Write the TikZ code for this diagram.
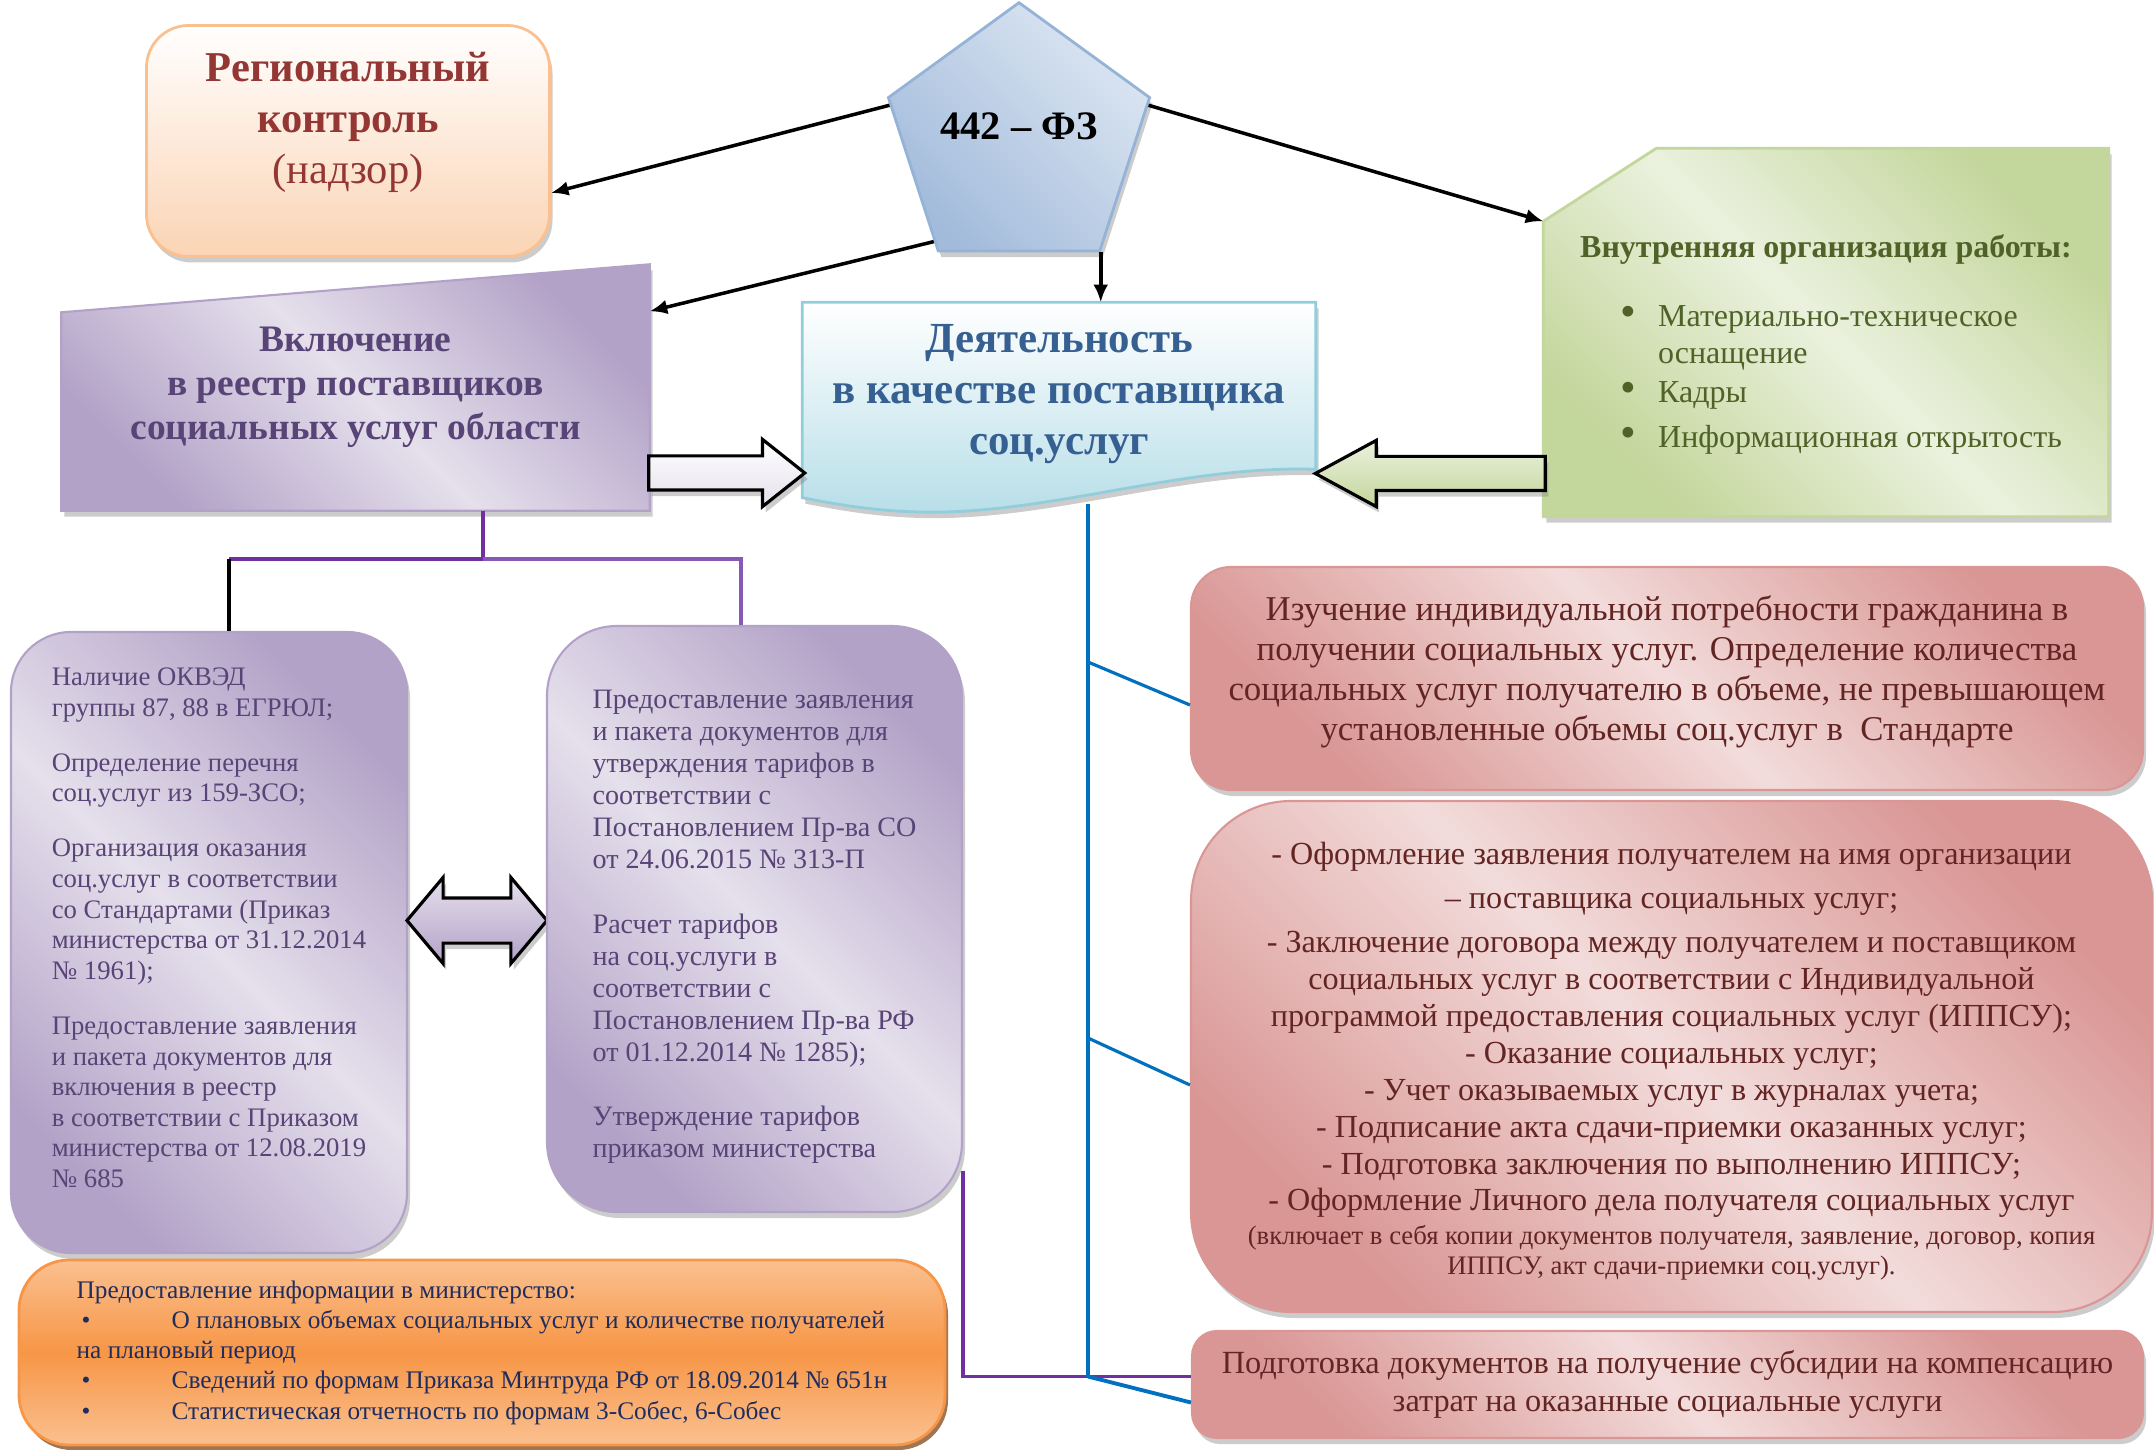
\documentclass[tikz,border=0pt]{standalone}
\usepackage{fontspec}
\setmainfont{Liberation Serif}
\usetikzlibrary{shapes.geometric,shapes.arrows,shadows,backgrounds,calc,arrows.meta}

\definecolor{regtxt}{HTML}{943634}
\definecolor{regfill}{HTML}{FBD4B4}
\definecolor{regline}{HTML}{FAC090}
\definecolor{fzdark}{HTML}{A2BBDB}
\definecolor{fzlight}{HTML}{DCE6F2}
\definecolor{fzline}{HTML}{95B3D7}
\definecolor{lilac}{HTML}{B3A2C7}
\definecolor{lilaclight}{HTML}{E5E0EC}
\definecolor{liltxt}{HTML}{584476}
\definecolor{doctxt}{HTML}{366092}
\definecolor{docfill}{HTML}{B7DEE8}
\definecolor{docline}{HTML}{92CDDC}
\definecolor{grn}{HTML}{C3D69B}
\definecolor{grnlight}{HTML}{EBF1DE}
\definecolor{grntxt}{HTML}{4F6228}
\definecolor{rose}{HTML}{D99694}
\definecolor{roselight}{HTML}{F2DCDB}
\definecolor{rosetxt}{HTML}{632523}
\definecolor{orng}{HTML}{F79646}
\definecolor{ornglight}{HTML}{FAC090}
\definecolor{orngtxt}{HTML}{1F2D5E}
\definecolor{vio}{HTML}{7030A0}
\definecolor{violight}{HTML}{8659B5}
\definecolor{linkblue}{HTML}{0070C0}

\newcommand{\itm}{\hspace*{.4cm}\makebox[.38cm][l]{\scalebox{1.4}{\textbullet}}}
\newcommand{\pkt}{\makebox[.95cm][l]{\hspace{.05cm}\textbullet}}

\begin{document}
\begin{tikzpicture}[>={Latex[length=5pt,width=4.2pt]},
	shadowed/.style={drop shadow={shadow xshift=.03cm,shadow yshift=-.06cm,opacity=.4}},
	diag/.style 2 args={top color=#1,bottom color=#1,middle color=#2,shading angle=-45},
	blockarrow/.style={draw,line width=.9pt,inner xsep=0pt,shadowed},
	lilacbox/.style={draw=lilac,line width=.6pt,diag={lilac}{lilaclight},shadowed,
		align=left,text=liltxt},
	rosebox/.style={draw=rose,line width=.6pt,diag={rose}{roselight},shadowed,
		align=center,text=rosetxt},
	link/.style={line width=1pt}]
	\useasboundingbox (0,0) rectangle (21.54,-14.50);
	\path
	(3.48,-1.41)     node[draw=regline,line width=.8pt,rounded corners=.42cm,top color=white,
	                  bottom color=regfill,shadowed,minimum width=4.03cm,minimum height=2.31cm,
	                  align=center,text=regtxt,font=\fontsize{12.1}{14.5}\selectfont] (reg)
	                 {\bfseries Региональный\\ \bfseries контроль\\ (надзор)\rule[-13pt]{0pt}{13pt}}
	(10.19,-1.40)    node[regular polygon,regular polygon sides=5,minimum size=2.62cm,inner sep=0pt,
	                  draw=fzline,line width=.8pt,top color=fzlight,bottom color=fzdark,
	                  shading angle=-45,shadowed,text depth=8pt,
	                  font=\fontsize{11.5}{13}\selectfont\bfseries] (fz) {442 – ФЗ}
	(3.555,-3.875)   node[minimum width=5.87cm,minimum height=2.45cm,align=center,text=liltxt,
	                  font=\fontsize{10.65}{12.5}\selectfont\bfseries] (vk)
	                 {Включение\\ в реестр поставщиков\\ социальных услуг области}
	(10.59,-4.00)    node[minimum width=5.12cm,minimum height=1.94cm,align=center,text=doctxt,
	                  font=\fontsize{12.2}{14.5}\selectfont\bfseries] (doc)
	                 {Деятельность\\ в качестве поставщика\\ соц.услуг\rule[-6pt]{0pt}{6pt}}
	(18.26,-3.325)   node[minimum width=5.64cm,minimum height=3.67cm,align=left,text=grntxt,
	                  font=\fontsize{9.1}{10.5}\selectfont] (inner)
	                 {\fontsize{9.1}{10.5}\selectfont\bfseries Внутренняя организация работы:\rule{0pt}{13.3pt}\\[9.4pt]
	                  \itm Материально-техническое\\
	                  \hspace*{.78cm}оснащение\\[.6pt]
	                  \itm Кадры\\[2.3pt]
	                  \itm Информационная открытость}
	(7.16,-4.73)     node[single arrow,blockarrow,minimum height=1.56cm,inner ysep=.155cm,
	                  single arrow head extend=.165cm,single arrow tip angle=77,
	                  top color=white,bottom color=lilaclight] (ar1) {}
	(14.46,-4.735)   node[single arrow,blockarrow,shape border rotate=180,minimum height=2.30cm,
	                  inner ysep=.155cm,single arrow head extend=.16cm,single arrow tip angle=57,
	                  top color=grnlight,bottom color=grn] (ar2) {}
	(2.09,-9.425)    node[lilacbox,rounded corners=.6cm,minimum width=3.96cm,minimum height=6.21cm,
	                  font=\fontsize{7.6}{8.7}\selectfont] (b1)
	                 {Наличие ОКВЭД\\ группы 87, 88 в ЕГРЮЛ;\\[7pt]
	                  Определение перечня\\ соц.услуг из 159-ЗСО;\\[7pt]
	                  Организация оказания\\ соц.услуг в соответствии\\ со Стандартами (Приказ\\
	                  министерства от 31.12.2014\\ № 1961);\\[7pt]
	                  Предоставление заявления\\ и пакета документов для\\ включения в реестр\\
	                  в соответствии с Приказом\\ министерства от 12.08.2019\\ № 685\rule[-8.5pt]{0pt}{8.5pt}}
	(4.77,-9.205)    node[double arrow,blockarrow,minimum height=1.40cm,inner ysep=.21cm,
	                  double arrow head extend=.205cm,double arrow tip angle=100,
	                  top color=lilaclight,bottom color=lilac] (ar3) {}
	(7.545,-9.19)    node[lilacbox,rounded corners=.7cm,minimum width=4.15cm,minimum height=5.86cm,
	                  font=\fontsize{8}{9.1}\selectfont] (b2)
	                 {\rule{0pt}{9.8pt}Предоставление заявления\\ и пакета документов для\\
	                  утверждения тарифов в\\ соответствии с\\ Постановлением Пр-ва СО\\
	                  от 24.06.2015 № 313-П\\[9.3pt]
	                  Расчет тарифов\\ на соц.услуги в\\ соответствии с\\ Постановлением Пр-ва РФ\\
	                  от 01.12.2014 № 1285);\\[9.3pt]
	                  Утверждение тарифов\\ приказом министерства}
	(16.67,-6.785)   node[rosebox,rounded corners=.4cm,minimum width=9.52cm,minimum height=2.23cm,
	                  font=\fontsize{9.9}{11.4}\selectfont] (r1)
	                 {Изучение индивидуальной потребности гражданина в\\
	                  получении социальных услуг. Определение количества\\
	                  социальных услуг получателю в объеме, не превышающем\\
	                  установленные объемы соц.услуг в\ \ Стандарте\rule[-6pt]{0pt}{6pt}}
	(16.715,-10.565) node[rosebox,rounded corners=1cm,minimum width=9.61cm,minimum height=5.11cm,
	                  font=\fontsize{9.15}{10.5}\selectfont] (r2)
	                 {\rule{0pt}{9pt}- Оформление заявления получателем на имя организации\\[2pt]
	                  – поставщика социальных услуг;\\[2pt]
	                  - Заключение договора между получателем и поставщиком\\
	                  социальных услуг в соответствии с Индивидуальной\\
	                  программой предоставления социальных услуг (ИППСУ);\\
	                  - Оказание социальных услуг;\\
	                  - Учет оказываемых услуг в журналах учета;\\
	                  - Подписание акта сдачи-приемки оказанных услуг;\\
	                  - Подготовка заключения по выполнению ИППСУ;\\
	                  - Оформление Личного дела получателя социальных услуг\\[-.8pt]
	                  \fontsize{7.6}{8.3}\selectfont(включает в себя копии документов получателя, заявление, договор, копия\\[-2.2pt]
	                  \fontsize{7.6}{8.3}\selectfont ИППСУ, акт сдачи-приемки соц.услуг).}
	(16.675,-13.845) node[rosebox,rounded corners=.25cm,minimum width=9.51cm,minimum height=1.07cm,
	                  font=\fontsize{9.2}{10.8}\selectfont] (r3)
	                 {Подготовка документов на получение субсидии на компенсацию\\
	                  затрат на оказанные социальные услуги}
	(4.82,-13.525)   node[draw=orng,line width=.8pt,rounded corners=.5cm,top color=ornglight,
	                  bottom color=ornglight,middle color=orng,
	                  drop shadow={shadow xshift=.03cm,shadow yshift=-.05cm,fill=orng!55!black,opacity=.8},
	                  minimum width=9.26cm,minimum height=1.85cm,align=left,
	                  text=orngtxt,font=\fontsize{7.2}{8.6}\selectfont] (inf)
	                 {Предоставление информации в министерство:\\
	                  \pkt О плановых объемах социальных услуг и количестве получателей\\
	                  на плановый период\\
	                  \pkt Сведений по формам Приказа Минтруда РФ от 18.09.2014 № 651н\\
	                  \pkt Статистическая отчетность по формам 3-Собес, 6-Собес};

	\coordinate (cut) at ([yshift=-.73cm]inner.north west);
	\coordinate (bt) at ([xshift=.29cm,yshift=-.06cm]doc.south);
	\coordinate (pj) at ([yshift=.08cm]r3.west);
	\coordinate (bb) at (bt |- pj);
	\coordinate (k1) at (10.88,-6.62);
	\coordinate (k2) at (10.88,-10.38);
	\coordinate (j) at (4.83,-5.59);
	\coordinate (jl) at (2.29,-5.59);
	\coordinate (jr) at (7.41,-5.59);

	\begin{scope}[on background layer]
	\path[shadowed,draw=lilac,line width=.6pt,diag={lilac}{lilaclight}]
	(vk.south west) -- ([yshift=-.48cm]vk.north west) -- (vk.north east) -- (vk.south east) -- cycle;
	\path[shadowed,draw=docline,line width=.8pt,top color=white,bottom color=docfill]
	(doc.north west) -- (doc.north east) -- ([yshift=-1.67cm]doc.north east)
	.. controls (11.80,-4.65) and (10.50,-5.15) .. (9.20,-5.12)
	.. controls (8.70,-5.11) and (8.30,-5.03) .. (doc.south west) -- cycle;
	\path[shadowed,draw=grn,line width=.8pt,diag={grn}{grnlight}]
	([xshift=1.13cm]inner.north west) -- (inner.north east) -- (inner.south east)
	-- (inner.south west) -- (cut) -- cycle;
	\end{scope}

	\draw[link,->] (fz.165) -- ([yshift=-.52cm]reg.east);
	\draw[link,->] (fz.230) -- ([yshift=-.47cm]vk.north east);
	\draw[link,->] (fz.15) -- (cut);
	\draw[link,->] (fz.corner 4) -- (fz.corner 4 |- doc.north);

	\draw[vio,line width=1.1pt] (j |- vk.south) -- (j);
	\draw[vio,line width=1.3pt] (jl) -- (j);
	\draw[violight,line width=1pt] (j) -- (jr) -- (jr |- b2.north);
	\draw[line width=.9pt] (jl) -- (jl |- b1.north);
	\draw[vio,line width=1pt] ([yshift=.42cm]b2.south east) |- (pj);

	\draw[linkblue,line width=.9pt] (bt) -- (bb);
	\draw[linkblue,line width=.9pt] (k1) -- ([yshift=-.265cm]r1.west);
	\draw[linkblue,line width=.9pt] (k2) -- ([yshift=-.285cm]r2.west);
	\draw[linkblue,line width=1.1pt] (bb) -- ([yshift=-.18cm]r3.west);
\end{tikzpicture}
\end{document}
